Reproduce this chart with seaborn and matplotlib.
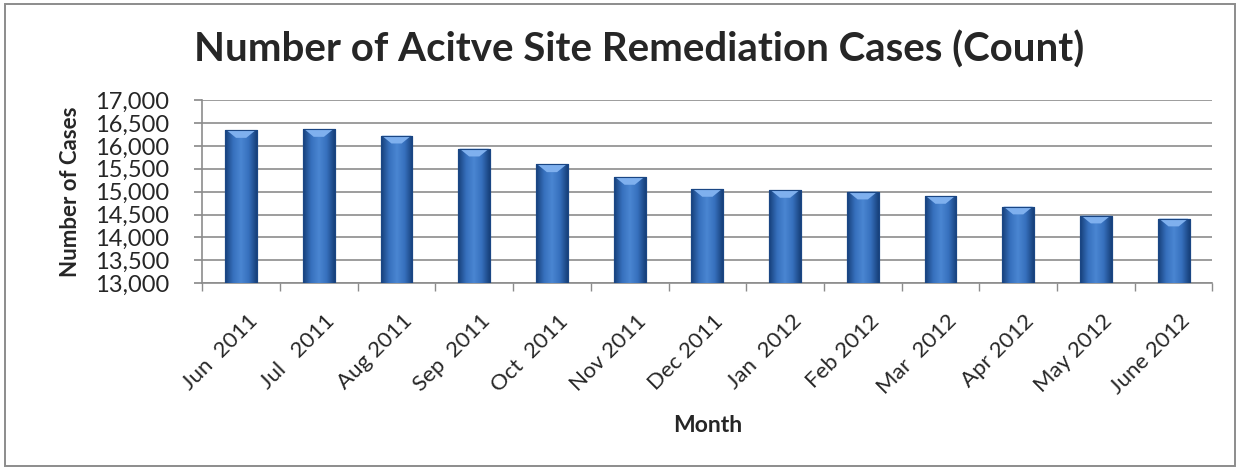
import numpy as np
import pandas as pd
import seaborn as sns
import matplotlib.pyplot as plt
import matplotlib.transforms as mtransforms
from matplotlib.patches import Rectangle
from matplotlib.colors import LinearSegmentedColormap

months = ["Jun  2011", "Jul   2011", "Aug 2011", "Sep  2011", "Oct  2011",
          "Nov 2011", "Dec 2011", "Jan  2012", "Feb 2012", "Mar  2012",
          "Apr 2012", "May 2012", "June 2012"]
cases = [16345, 16367, 16222, 15938, 15596, 15320, 15058,
         15036, 15000, 14905, 14673, 14476, 14411]
y_ticks = [13000, 13500, 14000, 14500, 15000, 15500, 16000, 16500, 17000]

df = pd.DataFrame({"Month": months, "Cases": cases})

sns.set_theme(style="white")
plt.rcParams["font.family"] = ["Lato", "DejaVu Sans"]

fig = plt.figure(figsize=(12.41, 4.72), dpi=100)
ax = fig.add_axes([0.163, 0.400, 0.814, 0.388])

y_min = 13000
sns.barplot(data=df, x="Month", y="Cases", color="#3b74c2", width=0.41,
            edgecolor="#1f4f8f", linewidth=0.8, ax=ax, zorder=3)
ax.set_ylim(y_min, 17000)
ax.set_xlim(-0.5, len(months) - 0.5)

# gradient effect on each bar
cmap = LinearSegmentedColormap.from_list(
    "bar", ["#17407a", "#3670bd", "#4a86d2", "#3670bd", "#17407a"])
grad = np.linspace(0, 1, 64).reshape(1, -1)
for p in ax.patches:
    x0, w, top = p.get_x(), p.get_width(), p.get_y() + p.get_height()
    im = ax.imshow(grad, cmap=cmap, extent=[x0, x0 + w, y_min, top],
                   aspect="auto", zorder=4, interpolation="bicubic")
    clip = Rectangle((x0, y_min), w, top - y_min, transform=ax.transData)
    im.set_clip_path(clip)
    # light bevel at top
    ax.fill([x0 + w * 0.04, x0 + w * 0.96, x0 + w * 0.66, x0 + w * 0.34],
            [top, top, top - 170, top - 170],
            color="#7fb0ee", zorder=5, lw=0)
    ax.plot([x0, x0, x0 + w, x0 + w], [y_min, top, top, y_min],
            color="#1a4684", lw=0.8, zorder=6)

ax.set_yticks(y_ticks)
ax.set_yticklabels([f"{v:,}" for v in y_ticks], fontsize=17)
ax.yaxis.grid(True, color="#8c8c8c", linewidth=1.2, zorder=0)
ax.set_axisbelow(True)

ax.set_xticks(np.arange(len(months)))
ax.set_xticklabels(months, rotation=45, ha="right", rotation_mode="anchor",
                   fontsize=16)
ax.tick_params(axis="x", length=0, pad=20)
shift = mtransforms.ScaledTranslation(0.06, 0, fig.dpi_scale_trans)
for lbl in ax.get_xticklabels():
    lbl.set_transform(lbl.get_transform() + shift)
ax.set_xticks(np.arange(-0.5, len(months)), minor=True)
ax.tick_params(axis="x", which="minor", length=6, color="#8c8c8c",
               direction="out", bottom=True)
ax.tick_params(axis="y", length=6, color="#8c8c8c", direction="out", left=True,
               pad=18)

for side in ["top", "right"]:
    ax.spines[side].set_visible(False)
for side in ["left", "bottom"]:
    ax.spines[side].set_color("#8c8c8c")
    ax.spines[side].set_linewidth(1.2)

ax.set_xlabel("Month", fontsize=16.5, fontweight="bold")
ax.set_ylabel("Number of Cases", fontsize=16, fontweight="bold")
ax.xaxis.set_label_coords(0.5, -0.72)
ax.yaxis.set_label_coords(-0.12, 0.5)

fig.text(0.515, 0.895, "Number of Acitve Site Remediation Cases (Count)",
         ha="center", va="center", fontsize=29, fontweight="bold")

fig.patches.append(Rectangle((0.004, 0.013), 0.991, 0.979, transform=fig.transFigure,
                             fill=False, edgecolor="#8c8c8c", linewidth=1.4))

fig.savefig("out.png", dpi=100, facecolor="white")
